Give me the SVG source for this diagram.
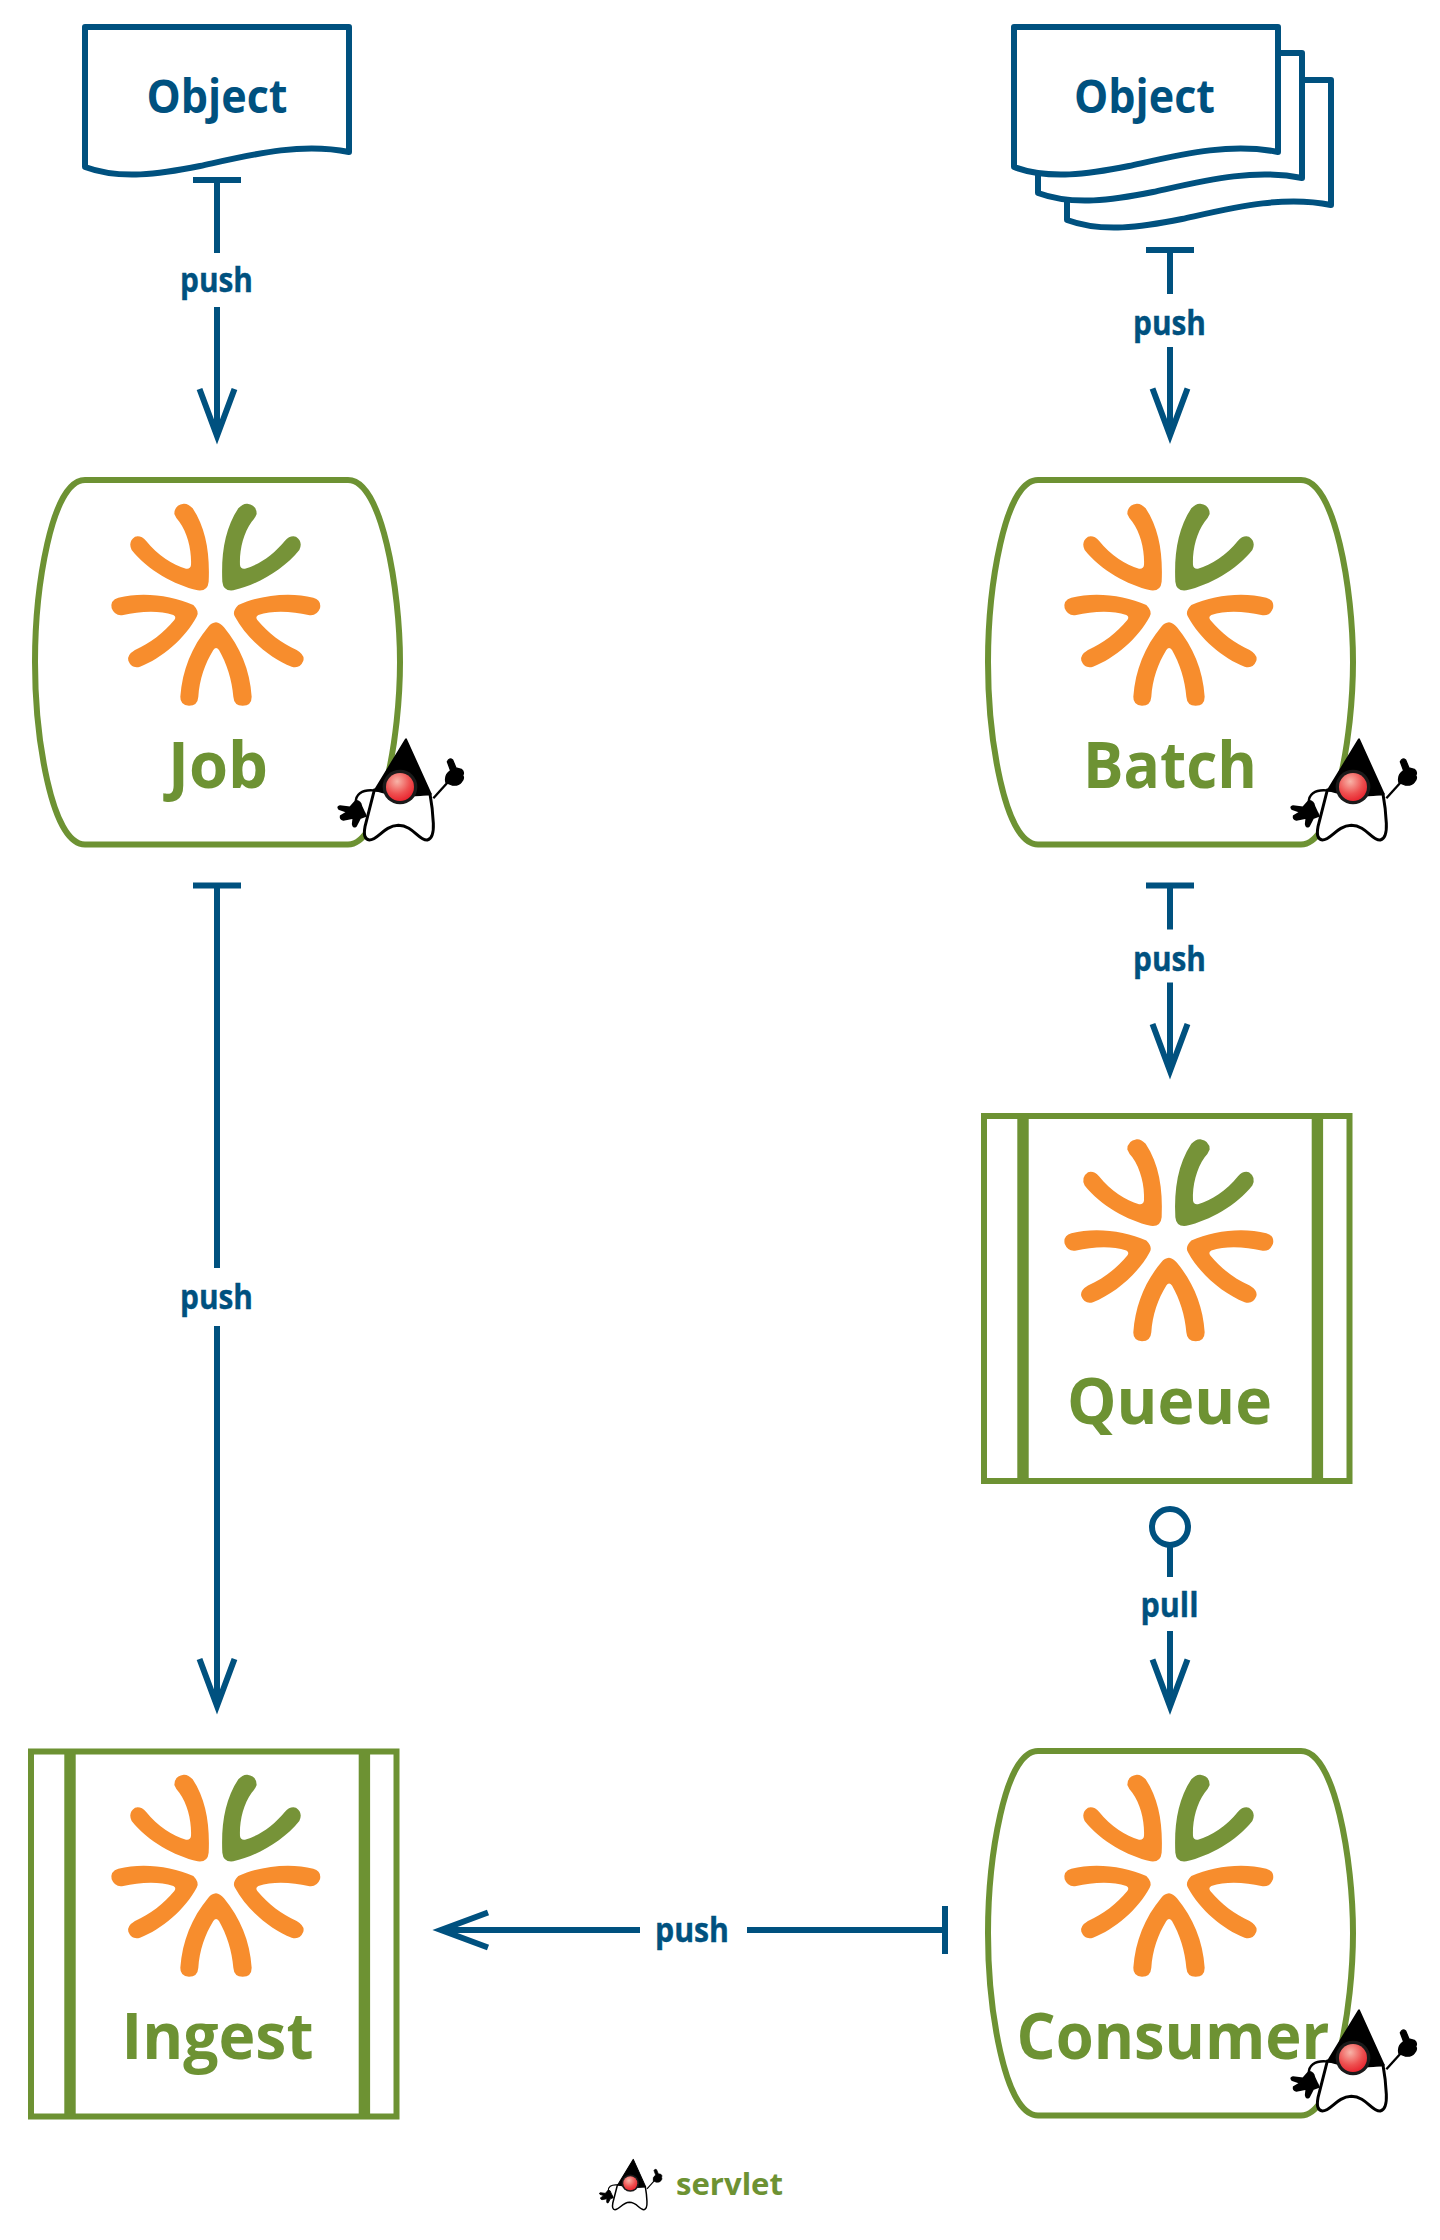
<svg xmlns="http://www.w3.org/2000/svg" width="1440" height="2240" viewBox="0 0 1440 2240">
<style>
text{font-family:"Open Sans","Liberation Sans",sans-serif;font-weight:700}
.b{fill:#00517f}
.g{fill:#6d9233}
.nl{font-size:64px}
.ol{font-size:46px}
.cl{font-size:34px;stroke:#00517f;stroke-width:.4}
.doc{fill:#fff;stroke:#00517f;stroke-width:6;stroke-linejoin:round}
.shape{fill:#fff;stroke:#6d9233;stroke-width:6}
.bar{fill:#6d9233}
.c{fill:none;stroke:#00517f;stroke-width:6;stroke-miterlimit:10}
.o{fill:#f78d2d}
.lg{fill:#769338}
</style>
<defs>
<radialGradient id="nose" cx="0.4" cy="0.3" r="0.75"><stop offset="0" stop-color="#f8b4a8"/><stop offset="0.6" stop-color="#ee5050"/><stop offset="1" stop-color="#e8202c"/></radialGradient>
<g id="arm"><path d="M655 115Q668 100 682 101Q710 105 710 132Q705 145 695 155C670 190 658 240 660 285Q662 298 675 296C715 285 760 255 795 212Q810 195 828 200Q850 215 838 240C790 300 710 345 640 361Q610 365 607 335C603 250 615 175 655 115Z"/></g>
<g id="arm2"><path d="M655 405C720 375 810 365 880 383Q905 390 900 415Q890 440 865 435C820 425 760 420 715 435Q705 440 712 450C745 490 785 520 830 540Q855 555 850 572Q840 597 815 590C750 565 680 505 645 440Q635 425 655 405Z"/></g>
<g id="logo" transform="translate(20 470) scale(0.33333)">
<use href="#arm" class="lg"/>
<use href="#arm" class="o" transform="matrix(-1 0 0 1 1173 0)"/>
<use href="#arm2" class="o"/>
<use href="#arm2" class="o" transform="matrix(-1 0 0 1 1175 0)"/>
<path class="o" d="M588 457Q600 458 612 472C660 530 690 600 695 680Q695 707 668 707Q642 707 640 680C636 630 620 580 597 540Q588 528 580 540C555 580 538 630 535 680Q533 707 507 707Q480 705 481 680C487 600 515 530 565 470Q575 458 588 457Z"/>
</g>
<g id="duke">
<path d="M163 180L135 290Q128 328 148 330C175 330 190 288 235 286C280 286 295 332 322 330Q342 325 340 280Q338 235 330 192Z" fill="#fff" stroke="#000" stroke-width="9" stroke-linejoin="round"/>
<path d="M258 28L165 180Q240 205 332 192Z" fill="#000" stroke="#000" stroke-width="6" stroke-linejoin="round"/>
<circle cx="240" cy="171" r="52" fill="#1a1a1a"/>
<circle cx="240" cy="171" r="42" fill="url(#nose)"/>
<path d="M160 181C125 178 105 195 108 218C112 236 125 245 135 252" fill="none" stroke="#000" stroke-width="7"/>
<path d="M138 258L120 265L108 288Q100 294 98 282L100 264L70 270Q60 268 62 258L82 246L58 238Q50 230 60 228L90 232L108 212Q122 214 124 228Z" fill="#000" stroke="#000" stroke-width="5" stroke-linejoin="round"/>
<path d="M340 205L382 158" fill="none" stroke="#000" stroke-width="7"/>
<path d="M378 158Q372 135 392 122L382 95Q388 82 398 90L408 114L424 118Q434 126 428 136Q434 146 424 156Q415 168 396 165Z" fill="#000" stroke="#000" stroke-width="4" stroke-linejoin="round"/>
</g>
<path id="wave" d="M85 27H349V152C300 142 250 155 200 166C160 174 120 180 85 167Z"/>
<path id="barrel" d="M85 480H348C382 480 400 590 400 662C400 735 382 844.5 348 844.5H85C51 844.5 35 735 35 662C35 590 51 480 85 480Z"/>
<g id="box">
<rect class="shape" x="31" y="480.5" width="365.5" height="365"/>
<rect class="bar" x="64.3" y="480" width="11.4" height="366"/>
<rect class="bar" x="358.7" y="480" width="11.4" height="366"/>
</g>
</defs>

<g id="connectors">
<g id="c-object-job">
<path class="c" d="M193 180H241M217 180V253M217 307V436M199.5 389L217 436L234.5 389"/>
<text class="b cl" x="180" y="292" textLength="73" lengthAdjust="spacingAndGlyphs">push</text>
</g>
<g id="c-job-ingest">
<path class="c" d="M193 885.5H241M217 885.5V1268M217 1326V1706M199.5 1659L217 1706L234.5 1659"/>
<text class="b cl" x="180" y="1309" textLength="73" lengthAdjust="spacingAndGlyphs">push</text>
</g>
<g id="c-batch-object">
<path class="c" d="M1146 250H1194M1170 250V294M1170 347V435.5M1152.5 388.5L1170 435.5L1187.5 388.5"/>
<text class="b cl" x="1133" y="335" textLength="73" lengthAdjust="spacingAndGlyphs">push</text>
</g>
<g id="c-batch-queue">
<path class="c" d="M1146 885.5H1194M1170 885.5V929.5M1170 982.5V1071M1152.5 1024L1170 1071L1187.5 1024"/>
<text class="b cl" x="1133" y="970.5" textLength="73" lengthAdjust="spacingAndGlyphs">push</text>
</g>
<g id="c-queue-consumer">
<circle class="c" cx="1170" cy="1527" r="18"/>
<path class="c" d="M1170 1545V1577M1170 1631V1706.5M1152.5 1659.5L1170 1706.5L1187.5 1659.5"/>
<text class="b cl" x="1140.5" y="1617" textLength="58" lengthAdjust="spacingAndGlyphs">pull</text>
</g>
<g id="c-consumer-ingest">
<path class="c" d="M945 1906V1954M945 1930H747M640 1930H441M488 1912.5L441 1930L488 1947.5"/>
<text class="b cl" x="655" y="1941.5" textLength="74" lengthAdjust="spacingAndGlyphs">push</text>
</g>
</g>

<g id="node-object-left">
<use href="#wave" class="doc"/>
<text class="b ol" x="146.5" y="112.5" textLength="141" lengthAdjust="spacingAndGlyphs">Object</text>
</g>
<g id="node-object-right">
<use href="#wave" class="doc" transform="translate(982 53)"/>
<use href="#wave" class="doc" transform="translate(953 26)"/>
<use href="#wave" class="doc" transform="translate(929 0)"/>
<text class="b ol" x="1074" y="112.5" textLength="141" lengthAdjust="spacingAndGlyphs">Object</text>
</g>
<g id="node-job">
<use href="#barrel" class="shape"/>
<use href="#logo"/>
<text class="g nl" x="168" y="788" textLength="100" lengthAdjust="spacingAndGlyphs">Job</text>
<use href="#duke" transform="translate(320 730) scale(0.33333)"/>
</g>
<g id="node-batch">
<use href="#barrel" class="shape" transform="translate(953 0)"/>
<use href="#logo" transform="translate(953 0)"/>
<text class="g nl" x="1083" y="788" textLength="174" lengthAdjust="spacingAndGlyphs">Batch</text>
<use href="#duke" transform="translate(1273 730) scale(0.33333)"/>
</g>
<g id="node-queue">
<use href="#box" transform="translate(953 635.5)"/>
<use href="#logo" transform="translate(953 635.5)"/>
<text class="g nl" x="1067" y="1423.5" textLength="205" lengthAdjust="spacingAndGlyphs">Queue</text>
</g>
<g id="node-ingest">
<use href="#box" transform="translate(0 1271)"/>
<use href="#logo" transform="translate(0 1271)"/>
<text class="g nl" x="121.5" y="2059" textLength="192" lengthAdjust="spacingAndGlyphs">Ingest</text>
</g>
<g id="node-consumer">
<use href="#barrel" class="shape" transform="translate(953 1271)"/>
<use href="#logo" transform="translate(953 1271)"/>
<text class="g nl" x="1016.5" y="2059" textLength="313" lengthAdjust="spacingAndGlyphs">Consumer</text>
<use href="#duke" transform="translate(1273 2001) scale(0.33333)"/>
</g>
<g id="legend">
<use href="#duke" transform="translate(590.3 2154.7) scale(0.16667)"/>
<text class="g" x="676" y="2195" font-size="30" textLength="107" lengthAdjust="spacingAndGlyphs">servlet</text>
</g>
</svg>
